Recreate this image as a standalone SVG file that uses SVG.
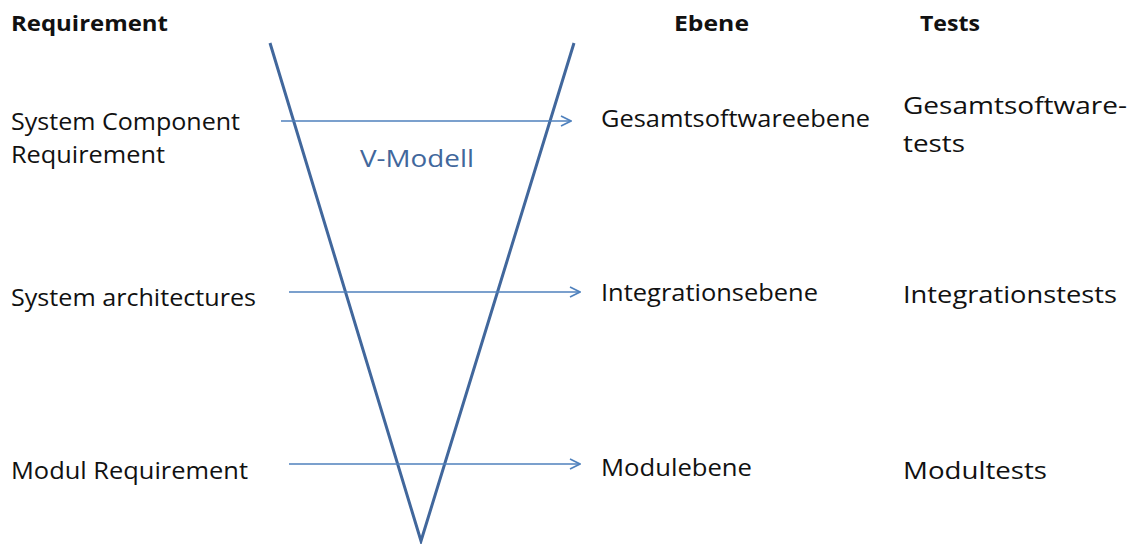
<svg xmlns="http://www.w3.org/2000/svg" width="1133" height="544" viewBox="0 0 1133 544">
<defs>
<style>
text{font-family:"Open Sans","Liberation Sans",sans-serif;fill:#111;}
.h{font-weight:bold;font-size:21px;}
.t{font-size:23px;}
.t2{font-size:24px;}
.v{fill:none;stroke:#41679c;stroke-width:3;}
.a{fill:none;stroke:#4f81bd;stroke-width:1.6;}
</style>
<marker id="arr" viewBox="0 0 12 12" refX="11" refY="6" markerWidth="12" markerHeight="12" markerUnits="userSpaceOnUse" orient="auto">
<path d="M1,1 L11,6 L1,11" fill="none" stroke="#4f81bd" stroke-width="1.6"/>
</marker>
</defs>
<rect width="1133" height="544" fill="#fff"/>
<g id="headers">
<text class="h" x="11" y="31" textLength="157" lengthAdjust="spacingAndGlyphs">Requirement</text>
<text class="h" x="674" y="31" textLength="75" lengthAdjust="spacingAndGlyphs">Ebene</text>
<text class="h" x="920" y="31" textLength="60" lengthAdjust="spacingAndGlyphs">Tests</text>
</g>
<g id="vmodel">
<polyline class="v" points="270,43 421,541 574,43"/>
<text x="360" y="167" style="font-size:23px;fill:#41679c" textLength="114" lengthAdjust="spacingAndGlyphs">V-Modell</text>
</g>
<g id="req1"><text class="t" x="11" y="130" textLength="229" lengthAdjust="spacingAndGlyphs">System Component</text><text class="t" x="11" y="163" textLength="154" lengthAdjust="spacingAndGlyphs">Requirement</text></g>
<g id="req2"><text class="t" x="11" y="306" textLength="245" lengthAdjust="spacingAndGlyphs">System architectures</text></g>
<g id="req3"><text class="t" x="11" y="479" textLength="237" lengthAdjust="spacingAndGlyphs">Modul Requirement</text></g>
<g id="ebene1"><text class="t" x="601" y="127" textLength="269" lengthAdjust="spacingAndGlyphs">Gesamtsoftwareebene</text></g>
<g id="ebene2"><text class="t" x="601" y="301" textLength="217" lengthAdjust="spacingAndGlyphs">Integrationsebene</text></g>
<g id="ebene3"><text class="t" x="601" y="476" textLength="151" lengthAdjust="spacingAndGlyphs">Modulebene</text></g>
<g id="test1"><text class="t2" x="903" y="114" textLength="224" lengthAdjust="spacingAndGlyphs">Gesamtsoftware-</text><text class="t2" x="903" y="152" textLength="62" lengthAdjust="spacingAndGlyphs">tests</text></g>
<g id="test2"><text class="t2" x="903" y="303" textLength="214" lengthAdjust="spacingAndGlyphs">Integrationstests</text></g>
<g id="test3"><text class="t2" x="903" y="479" textLength="144" lengthAdjust="spacingAndGlyphs">Modultests</text></g>
<g id="connectors">
<line class="a" x1="281" y1="121" x2="571" y2="121" marker-end="url(#arr)"/>
<line class="a" x1="289" y1="292" x2="580" y2="292" marker-end="url(#arr)"/>
<line class="a" x1="289" y1="464" x2="580" y2="464" marker-end="url(#arr)"/>
</g>
</svg>
